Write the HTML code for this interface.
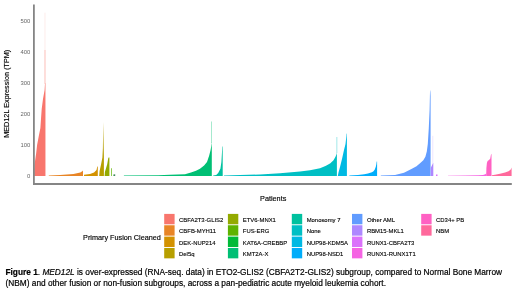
<!DOCTYPE html>
<html><head><meta charset="utf-8"><style>
html,body{margin:0;padding:0;background:#fff;}
body{width:520px;height:296px;overflow:hidden;position:relative;font-family:"Liberation Sans",sans-serif;}
svg{position:absolute;left:0;top:0;filter:blur(0.3px);}
.tk{font-family:"Liberation Sans",sans-serif;font-size:5.9px;fill:#666;}
.lg{font-family:"Liberation Sans",sans-serif;font-size:5.9px;fill:#000;stroke:#000;stroke-width:0.12px;}
.at{font-family:"Liberation Sans",sans-serif;font-size:7.25px;fill:#000;stroke:#000;stroke-width:0.15px;}
.cap{position:absolute;left:5.5px;top:267.3px;font-size:8.3px;line-height:10.3px;color:#000;white-space:nowrap;filter:blur(0.3px);-webkit-text-stroke:0.2px #000;}
</style></head><body>
<svg width="520" height="296" viewBox="0 0 520 296">
<polygon fill="#F8766D" points="34.20,175.90 34.30,170.00 34.60,164.00 36.20,153.00 37.10,145.00 38.80,136.00 40.40,128.00 41.20,116.00 41.70,109.00 43.00,99.00 44.60,90.00 45.00,83.50 45.45,83.50 45.45,175.90"/>
<polygon fill="#E88526" points="48.80,175.90 48.80,175.40 60.00,174.90 73.50,174.00 80.30,172.60 82.30,171.30 83.00,170.50 83.00,175.90"/>
<polygon fill="#D39200" points="84.00,175.90 84.00,174.80 90.00,174.00 94.00,172.50 96.50,170.00 97.30,166.50 97.80,166.50 97.80,175.90"/>
<polygon fill="#B79F00" points="99.20,175.90 99.60,171.00 101.10,164.20 102.40,157.60 102.90,148.00 103.25,122.00 103.55,140.00 103.90,156.00 103.90,175.90"/>
<polygon fill="#93AA00" points="104.60,175.90 104.90,172.00 105.80,168.90 107.20,164.20 108.20,158.50 108.60,157.60 109.40,157.60 109.40,175.90"/>
<polygon fill="#5EB300" points="111.00,175.90 111.00,168.50 111.70,168.00 111.70,175.90"/>
<polygon fill="#3f8a58" points="113.40,175.90 113.40,174.60 115.20,174.30 115.20,175.90"/>
<polygon fill="#00BF74" points="123.90,175.90 123.90,175.50 158.00,175.30 170.00,174.80 185.00,174.20 191.00,172.60 196.00,170.80 200.00,168.80 204.10,165.50 207.00,162.00 209.20,155.50 210.60,150.00 211.20,146.40 211.80,142.00 211.80,175.90"/>
<polygon fill="#00C19F" points="213.20,175.90 213.20,175.50 216.20,175.00 218.20,173.00 220.40,168.70 221.40,162.00 222.00,152.00 222.30,146.50 222.70,146.50 222.70,175.90"/>
<polygon fill="#00BFC4" points="224.00,175.90 224.00,175.50 240.00,175.10 260.00,174.40 280.00,173.20 300.00,171.60 310.00,170.30 320.00,168.20 326.00,165.80 330.40,163.20 333.50,160.20 335.50,156.80 336.40,154.40 336.90,152.50 336.90,175.90"/>
<polygon fill="#00B9E3" points="337.80,175.90 338.50,172.50 340.00,167.00 342.00,159.00 344.00,150.00 345.50,144.00 346.40,136.00 346.60,133.20 346.90,134.00 346.90,175.90"/>
<polygon fill="#00ADFA" points="349.30,175.90 349.30,175.50 358.00,175.10 364.20,174.20 368.00,173.50 371.90,172.30 373.50,171.20 374.80,169.40 375.80,166.80 376.30,164.60 376.70,161.50 377.10,161.50 377.10,175.90"/>
<polygon fill="#619CFF" points="380.80,175.90 380.80,175.50 395.00,174.90 404.00,172.80 411.90,168.80 416.50,166.20 420.30,163.00 423.30,160.20 425.40,156.80 426.80,151.50 427.80,144.00 428.80,128.00 429.60,110.00 430.00,92.00 430.30,89.70 430.60,96.00 430.60,175.90"/>
<polygon fill="#AE87FF" points="430.80,175.90 430.80,167.70 431.80,165.80 432.80,163.50 433.30,163.00 433.30,175.90"/>
<polygon fill="#DB72FB" points="436.00,175.90 436.00,174.60 437.50,174.40 437.50,175.90"/>
<polygon fill="#F564E3" points="447.90,175.90 447.90,175.65 465.00,175.55 478.00,175.30 483.00,174.90 485.30,174.30 486.20,173.60 486.20,175.90"/>
<polygon fill="#FF61C3" points="486.20,175.90 486.40,168.00 486.90,163.00 487.60,161.00 489.00,160.00 490.20,158.70 490.90,155.00 491.20,153.80 491.50,154.50 491.50,175.90"/>
<polygon fill="#FF699C" points="491.80,175.90 491.80,175.30 495.00,174.70 500.00,173.80 505.00,172.60 508.50,171.20 510.50,169.80 511.20,168.40 511.60,167.50 511.60,175.90"/>
<rect x="44.77" y="12.70" width="0.45" height="71.30" fill="#F8766D" fill-opacity="0.30"/>
<rect x="44.70" y="50.00" width="0.60" height="34.00" fill="#F8766D" fill-opacity="0.60"/>
<rect x="211.25" y="121.50" width="0.50" height="21.50" fill="#00BF74" fill-opacity="0.70"/>
<rect x="336.60" y="137.00" width="0.60" height="16.00" fill="#00BFC4" fill-opacity="0.60"/>
<rect x="432.67" y="135.80" width="0.45" height="27.70" fill="#AE87FF" fill-opacity="0.45"/>
<line x1="33.90" y1="4.60" x2="33.90" y2="184.90" stroke="#858585" stroke-width="1.8"/>
<line x1="33.00" y1="184.00" x2="511.80" y2="184.00" stroke="#858585" stroke-width="1.8"/>
<text x="30.3" y="177.80" text-anchor="end" class="tk">0</text>
<text x="30.3" y="146.82" text-anchor="end" class="tk">100</text>
<text x="30.3" y="115.84" text-anchor="end" class="tk">200</text>
<text x="30.3" y="84.86" text-anchor="end" class="tk">300</text>
<text x="30.3" y="53.88" text-anchor="end" class="tk">400</text>
<text x="30.3" y="22.90" text-anchor="end" class="tk">500</text>
<text class="at" x="273.2" y="200.6" text-anchor="middle">Patients</text>
<text class="at" transform="translate(8.9,93.8) rotate(-90)" text-anchor="middle">MED12L Expression (TPM)</text>
<rect x="164.20" y="213.90" width="10.40" height="10.40" fill="#F8766D"/>
<text class="lg" x="179.10" y="221.80">CBFA2T3-GLIS2</text>
<rect x="164.20" y="225.25" width="10.40" height="10.40" fill="#E88526"/>
<text class="lg" x="179.10" y="233.15">CBFB-MYH11</text>
<rect x="164.20" y="236.60" width="10.40" height="10.40" fill="#D39200"/>
<text class="lg" x="179.10" y="244.50">DEK-NUP214</text>
<rect x="164.20" y="247.95" width="10.40" height="10.40" fill="#B79F00"/>
<text class="lg" x="179.10" y="255.85">Del5q</text>
<rect x="227.90" y="213.90" width="10.40" height="10.40" fill="#93AA00"/>
<text class="lg" x="242.80" y="221.80">ETV6-MNX1</text>
<rect x="227.90" y="225.25" width="10.40" height="10.40" fill="#5EB300"/>
<text class="lg" x="242.80" y="233.15">FUS-ERG</text>
<rect x="227.90" y="236.60" width="10.40" height="10.40" fill="#00BA38"/>
<text class="lg" x="242.80" y="244.50">KAT6A-CREBBP</text>
<rect x="227.90" y="247.95" width="10.40" height="10.40" fill="#00BF74"/>
<text class="lg" x="242.80" y="255.85">KMT2A-X</text>
<rect x="291.80" y="213.90" width="10.40" height="10.40" fill="#00C19F"/>
<text class="lg" x="306.70" y="221.80">Monosomy 7</text>
<rect x="291.80" y="225.25" width="10.40" height="10.40" fill="#00BFC4"/>
<text class="lg" x="306.70" y="233.15">None</text>
<rect x="291.80" y="236.60" width="10.40" height="10.40" fill="#00B9E3"/>
<text class="lg" x="306.70" y="244.50">NUP98-KDM5A</text>
<rect x="291.80" y="247.95" width="10.40" height="10.40" fill="#00ADFA"/>
<text class="lg" x="306.70" y="255.85">NUP98-NSD1</text>
<rect x="352.00" y="213.90" width="10.40" height="10.40" fill="#619CFF"/>
<text class="lg" x="366.90" y="221.80">Other AML</text>
<rect x="352.00" y="225.25" width="10.40" height="10.40" fill="#AE87FF"/>
<text class="lg" x="366.90" y="233.15">RBM15-MKL1</text>
<rect x="352.00" y="236.60" width="10.40" height="10.40" fill="#DB72FB"/>
<text class="lg" x="366.90" y="244.50">RUNX1-CBFA2T3</text>
<rect x="352.00" y="247.95" width="10.40" height="10.40" fill="#F564E3"/>
<text class="lg" x="366.90" y="255.85">RUNX1-RUNX1T1</text>
<rect x="421.20" y="213.90" width="10.40" height="10.40" fill="#FF61C3"/>
<text class="lg" x="436.10" y="221.80">CD34+ PB</text>
<rect x="421.20" y="225.25" width="10.40" height="10.40" fill="#FF699C"/>
<text class="lg" x="436.10" y="233.15">NBM</text>
<text class="at" x="83.1" y="239.6">Primary Fusion Cleaned</text>
</svg>
<div class="cap"><b>Figure 1</b>. <i>MED12L</i> is over-expressed (RNA-seq. data) in ETO2-GLIS2 (CBFA2T2-GLIS2) subgroup, compared to Normal Bone Marrow<br>(NBM) and other fusion or non-fusion subgroups, across a pan-pediatric acute myeloid leukemia cohort.</div>
</body></html>
